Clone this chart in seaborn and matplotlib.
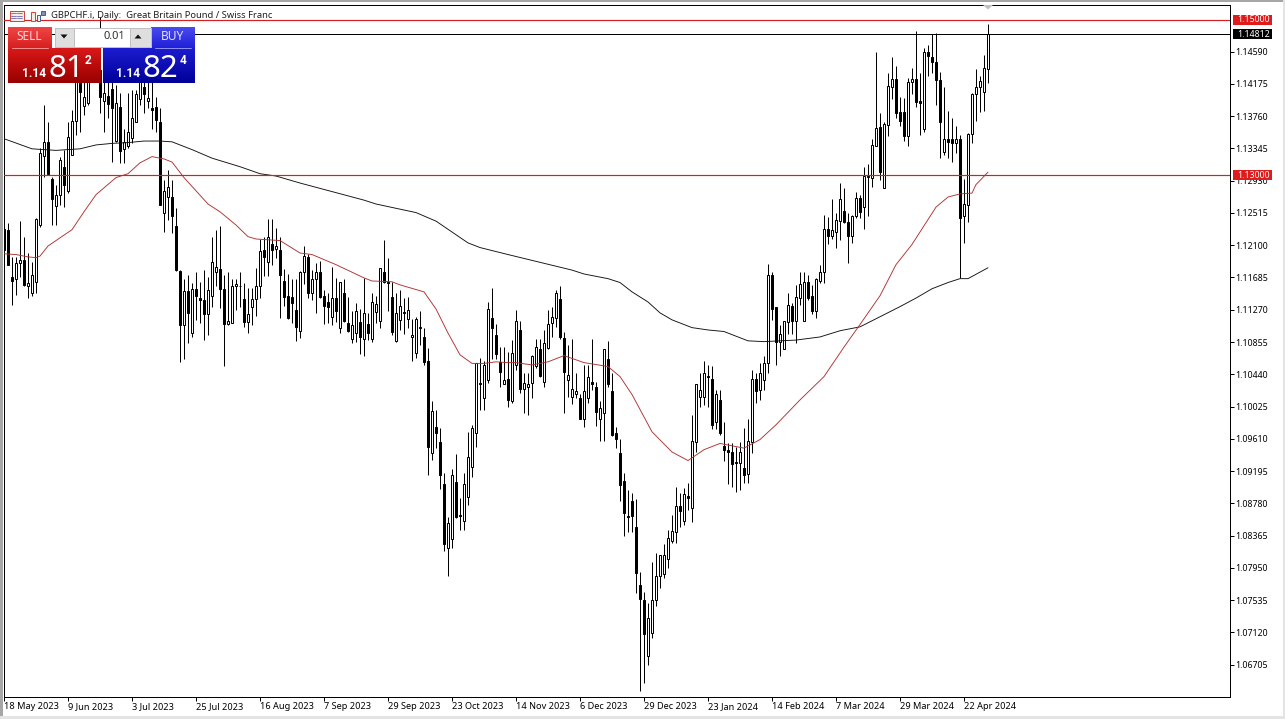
import numpy as np
import pandas as pd
import matplotlib
matplotlib.use("Agg")
import matplotlib.pyplot as plt
from matplotlib.patches import Polygon, Rectangle
import seaborn as sns

FONT = "Noto Sans"

highs = [
    1.1239, 1.1239, 1.1195, 1.1195, 1.1241, 1.1221, 1.1200, 1.1189, 1.1245, 1.1335,
    1.1391, 1.1369, 1.1298, 1.1288, 1.1324, 1.1333, 1.1369, 1.1384, 1.1449, 1.1442,
    1.1436, 1.1449, 1.1455, 1.1461, 1.1504, 1.1449, 1.1449, 1.1436, 1.1416, 1.1406,
    1.1359, 1.1406, 1.1410, 1.1410, 1.1449, 1.1442, 1.1423, 1.1429, 1.1401, 1.1386,
    1.1294, 1.1307, 1.1294, 1.1258, 1.1178, 1.1166, 1.1172, 1.1162, 1.1175, 1.1163,
    1.1178, 1.1169, 1.1220, 1.1230, 1.1235, 1.1172, 1.1176, 1.1166, 1.1167, 1.1176,
    1.1162, 1.1155, 1.1155, 1.1181, 1.1218, 1.1221, 1.1244, 1.1244, 1.1232, 1.1221,
    1.1180, 1.1173, 1.1166, 1.1167, 1.1177, 1.1209, 1.1199, 1.1178, 1.1187, 1.1190,
    1.1153, 1.1149, 1.1182, 1.1168, 1.1163, 1.1166, 1.1144, 1.1126, 1.1136, 1.1128,
    1.1168, 1.1123, 1.1148, 1.1145, 1.1181, 1.1217, 1.1193, 1.1163, 1.1149, 1.1153,
    1.1142, 1.1144, 1.1115, 1.1118, 1.1126, 1.1104, 1.1078, 1.1009, 1.0998, 1.0975,
    1.0917, 1.0861, 1.0922, 1.0942, 1.0885, 1.0917, 1.0970, 1.0979, 1.1059, 1.1065,
    1.1061, 1.1137, 1.1155, 1.1109, 1.1079, 1.1079, 1.1073, 1.1088, 1.1127, 1.1113,
    1.1045, 1.1045, 1.1069, 1.1090, 1.1090, 1.1101, 1.1127, 1.1131, 1.1153, 1.1157,
    1.1099, 1.1082, 1.1090, 1.1046, 1.1018, 1.1056, 1.1056, 1.1090, 1.1034, 1.1009,
    1.1077, 1.1087, 1.1045, 1.0976, 1.0961, 1.0917, 1.0895, 1.0891, 1.0884, 1.0790,
    1.0764, 1.0750, 1.0802, 1.0814, 1.0812, 1.0826, 1.0844, 1.0863, 1.0899, 1.0891,
    1.0898, 1.0904, 1.0991, 1.1031, 1.1046, 1.1061, 1.1056, 1.1054, 1.1024, 1.1024,
    1.0983, 1.0956, 1.0956, 1.0951, 1.0957, 1.0975, 1.0986, 1.1050, 1.1045, 1.1059,
    1.1068, 1.1186, 1.1175, 1.1131, 1.1108, 1.1113, 1.1149, 1.1136, 1.1159, 1.1176,
    1.1175, 1.1172, 1.1159, 1.1168, 1.1185, 1.1249, 1.1246, 1.1269, 1.1252, 1.1290,
    1.1284, 1.1252, 1.1249, 1.1279, 1.1275, 1.1311, 1.1314, 1.1347, 1.1459, 1.1380,
    1.1368, 1.1432, 1.1452, 1.1440, 1.1401, 1.1400, 1.1425, 1.1438, 1.1485, 1.1431,
    1.1464, 1.1468, 1.1482, 1.1483, 1.1433, 1.1414, 1.1383, 1.1374, 1.1364, 1.1352,
    1.1295, 1.1354, 1.1406, 1.1437, 1.1428, 1.1455, 1.1494,
]
body_tops = [
    1.1231, 1.1230, 1.1169, 1.1187, 1.1191, 1.1191, 1.1162, 1.1172, 1.1244, 1.1329,
    1.1343, 1.1343, 1.1295, 1.1275, 1.1320, 1.1310, 1.1349, 1.1370, 1.1429, 1.1429,
    1.1401, 1.1429, 1.1442, 1.1449, 1.1436, 1.1406, 1.1402, 1.1411, 1.1393, 1.1388,
    1.1343, 1.1356, 1.1374, 1.1404, 1.1433, 1.1414, 1.1400, 1.1387, 1.1388, 1.1369,
    1.1280, 1.1285, 1.1272, 1.1235, 1.1177, 1.1151, 1.1151, 1.1154, 1.1154, 1.1142,
    1.1139, 1.1153, 1.1189, 1.1182, 1.1180, 1.1154, 1.1113, 1.1157, 1.1160, 1.1158,
    1.1141, 1.1121, 1.1141, 1.1158, 1.1203, 1.1204, 1.1221, 1.1212, 1.1209, 1.1204,
    1.1164, 1.1145, 1.1144, 1.1127, 1.1176, 1.1196, 1.1195, 1.1167, 1.1176, 1.1176,
    1.1145, 1.1137, 1.1142, 1.1142, 1.1163, 1.1149, 1.1110, 1.1108, 1.1126, 1.1111,
    1.1123, 1.1109, 1.1137, 1.1135, 1.1181, 1.1175, 1.1163, 1.1144, 1.1123, 1.1132,
    1.1124, 1.1127, 1.1095, 1.1115, 1.1105, 1.1092, 1.1061, 1.0997, 1.0976, 1.0957,
    1.0903, 1.0853, 1.0915, 1.0906, 1.0863, 1.0903, 1.0937, 1.0975, 1.1059, 1.1033,
    1.1056, 1.1128, 1.1117, 1.1094, 1.1060, 1.1037, 1.1038, 1.1072, 1.1113, 1.1101,
    1.1033, 1.1031, 1.1068, 1.1079, 1.1076, 1.1084, 1.1109, 1.1118, 1.1149, 1.1141,
    1.1091, 1.1043, 1.1025, 1.1022, 1.1014, 1.1023, 1.1041, 1.1034, 1.1027, 1.1000,
    1.1076, 1.1063, 1.1023, 1.0969, 1.0943, 1.0907, 1.0862, 1.0881, 1.0847, 1.0773,
    1.0753, 1.0731, 1.0753, 1.0785, 1.0812, 1.0812, 1.0834, 1.0843, 1.0874, 1.0874,
    1.0890, 1.0888, 1.0958, 1.1031, 1.1024, 1.1046, 1.1042, 1.1038, 1.1019, 1.1011,
    1.0952, 1.0947, 1.0944, 1.0931, 1.0944, 1.0924, 1.0958, 1.1038, 1.1038, 1.1045,
    1.1059, 1.1172, 1.1172, 1.1130, 1.1096, 1.1113, 1.1133, 1.1132, 1.1144, 1.1160,
    1.1163, 1.1163, 1.1145, 1.1166, 1.1176, 1.1231, 1.1231, 1.1230, 1.1243, 1.1270,
    1.1254, 1.1240, 1.1247, 1.1271, 1.1271, 1.1299, 1.1299, 1.1339, 1.1361, 1.1362,
    1.1366, 1.1415, 1.1424, 1.1424, 1.1382, 1.1382, 1.1420, 1.1424, 1.1424, 1.1396,
    1.1458, 1.1458, 1.1452, 1.1446, 1.1423, 1.1347, 1.1346, 1.1346, 1.1347, 1.1347,
    1.1263, 1.1353, 1.1405, 1.1414, 1.1421, 1.1438, 1.1482,
]
body_bottoms = [
    1.1204, 1.1184, 1.1164, 1.1167, 1.1187, 1.1159, 1.1158, 1.1149, 1.1163, 1.1236,
    1.1325, 1.1302, 1.1269, 1.1261, 1.1275, 1.1288, 1.1280, 1.1326, 1.1370, 1.1407,
    1.1389, 1.1393, 1.1425, 1.1429, 1.1401, 1.1396, 1.1392, 1.1386, 1.1344, 1.1331,
    1.1334, 1.1337, 1.1348, 1.1369, 1.1398, 1.1404, 1.1396, 1.1384, 1.1371, 1.1262,
    1.1252, 1.1272, 1.1248, 1.1178, 1.1108, 1.1108, 1.1123, 1.1097, 1.1145, 1.1139,
    1.1122, 1.1122, 1.1145, 1.1175, 1.1154, 1.1109, 1.1109, 1.1110, 1.1157, 1.1157,
    1.1111, 1.1111, 1.1131, 1.1141, 1.1158, 1.1195, 1.1189, 1.1204, 1.1205, 1.1172,
    1.1144, 1.1117, 1.1136, 1.1105, 1.1100, 1.1175, 1.1148, 1.1148, 1.1167, 1.1144,
    1.1132, 1.1130, 1.1118, 1.1126, 1.1103, 1.1113, 1.1100, 1.1090, 1.1097, 1.1092,
    1.1090, 1.1097, 1.1090, 1.1124, 1.1113, 1.1163, 1.1162, 1.1099, 1.1087, 1.1114,
    1.1123, 1.1115, 1.1092, 1.1072, 1.1103, 1.1060, 1.0951, 1.0943, 1.0969, 1.0915,
    1.0826, 1.0820, 1.0832, 1.0861, 1.0862, 1.0855, 1.0886, 1.0925, 1.0969, 1.1031,
    1.1014, 1.1037, 1.1103, 1.1070, 1.1047, 1.1032, 1.1011, 1.1010, 1.1056, 1.1025,
    1.1025, 1.1028, 1.1033, 1.1055, 1.1042, 1.1034, 1.1078, 1.1110, 1.1117, 1.1092,
    1.1047, 1.1036, 1.1015, 1.1018, 1.0987, 1.0987, 1.1014, 1.1031, 1.0996, 1.0987,
    1.0994, 1.1032, 1.0966, 1.0961, 1.0902, 1.0866, 1.0861, 1.0862, 1.0788, 1.0755,
    1.0710, 1.0682, 1.0711, 1.0753, 1.0784, 1.0787, 1.0807, 1.0830, 1.0841, 1.0868,
    1.0855, 1.0885, 1.0872, 1.0957, 1.1015, 1.1015, 1.1041, 1.0979, 1.0982, 1.0969,
    1.0946, 1.0944, 1.0929, 1.0930, 1.0930, 1.0914, 1.0916, 1.0957, 1.1023, 1.1024,
    1.1036, 1.1058, 1.1128, 1.1086, 1.1086, 1.1077, 1.1111, 1.1113, 1.1113, 1.1142,
    1.1113, 1.1142, 1.1126, 1.1126, 1.1164, 1.1175, 1.1222, 1.1222, 1.1227, 1.1241,
    1.1240, 1.1222, 1.1222, 1.1247, 1.1253, 1.1259, 1.1298, 1.1297, 1.1338, 1.1304,
    1.1284, 1.1365, 1.1414, 1.1380, 1.1370, 1.1350, 1.1350, 1.1420, 1.1394, 1.1393,
    1.1360, 1.1454, 1.1446, 1.1422, 1.1369, 1.1330, 1.1343, 1.1342, 1.1341, 1.1245,
    1.1247, 1.1262, 1.1353, 1.1405, 1.1414, 1.1407, 1.1437,
]
lows = [
    1.1182, 1.1184, 1.1133, 1.1146, 1.1169, 1.1158, 1.1142, 1.1145, 1.1149, 1.1234,
    1.1298, 1.1302, 1.1236, 1.1236, 1.1262, 1.1259, 1.1277, 1.1326, 1.1352, 1.1356,
    1.1378, 1.1391, 1.1420, 1.1420, 1.1380, 1.1356, 1.1374, 1.1317, 1.1343, 1.1316,
    1.1316, 1.1335, 1.1342, 1.1368, 1.1391, 1.1380, 1.1387, 1.1360, 1.1355, 1.1262,
    1.1227, 1.1243, 1.1226, 1.1177, 1.1060, 1.1063, 1.1084, 1.1092, 1.1114, 1.1110,
    1.1088, 1.1095, 1.1131, 1.1157, 1.1129, 1.1054, 1.1108, 1.1110, 1.1127, 1.1131,
    1.1105, 1.1097, 1.1108, 1.1119, 1.1142, 1.1171, 1.1171, 1.1184, 1.1194, 1.1117,
    1.1132, 1.1115, 1.1110, 1.1087, 1.1091, 1.1160, 1.1142, 1.1139, 1.1123, 1.1142,
    1.1109, 1.1110, 1.1108, 1.1111, 1.1097, 1.1111, 1.1099, 1.1084, 1.1086, 1.1070,
    1.1068, 1.1088, 1.1086, 1.1110, 1.1104, 1.1162, 1.1126, 1.1094, 1.1086, 1.1101,
    1.1096, 1.1103, 1.1061, 1.1065, 1.1082, 1.1056, 1.0915, 1.0934, 1.0949, 1.0897,
    1.0817, 1.0784, 1.0821, 1.0859, 1.0844, 1.0844, 1.0876, 1.0912, 1.0951, 1.0998,
    1.0998, 1.1033, 1.1063, 1.1063, 1.1027, 1.1032, 1.1002, 1.1007, 1.1050, 1.1020,
    1.0994, 1.0991, 1.1014, 1.1052, 1.1041, 1.1028, 1.1076, 1.1092, 1.1105, 1.1090,
    1.0994, 1.1015, 1.1006, 1.1014, 1.0986, 1.0976, 1.1007, 1.1024, 1.0978, 1.0958,
    1.0958, 1.1027, 1.0964, 1.0949, 1.0881, 1.0836, 1.0841, 1.0841, 1.0763, 1.0637,
    1.0647, 1.0670, 1.0705, 1.0746, 1.0769, 1.0782, 1.0795, 1.0827, 1.0827, 1.0847,
    1.0850, 1.0870, 1.0854, 1.0944, 1.1002, 1.1005, 1.1002, 1.0973, 1.0973, 1.0966,
    1.0933, 1.0903, 1.0899, 1.0893, 1.0895, 1.0904, 1.0904, 1.0943, 1.1007, 1.1011,
    1.1024, 1.1046, 1.1114, 1.1056, 1.1067, 1.1076, 1.1096, 1.1096, 1.1084, 1.1133,
    1.1113, 1.1140, 1.1121, 1.1117, 1.1162, 1.1162, 1.1212, 1.1218, 1.1207, 1.1217,
    1.1239, 1.1187, 1.1213, 1.1245, 1.1245, 1.1231, 1.1248, 1.1285, 1.1338, 1.1294,
    1.1284, 1.1350, 1.1398, 1.1374, 1.1364, 1.1344, 1.1338, 1.1404, 1.1388, 1.1352,
    1.1356, 1.1428, 1.1431, 1.1391, 1.1322, 1.1326, 1.1322, 1.1317, 1.1329, 1.1168,
    1.1213, 1.1240, 1.1342, 1.1370, 1.1382, 1.1383, 1.1419,
]
# 1 = white (up) candle, 0 = black (down) candle
candle_up = (
    "0001101111" "1001101110" "1110010010" "1111101000" "1100010100"
    "0111001110" "0111101010" "0000110110" "0010100110" "1011100011"
    "0111100100" "0110011110" "1100010110" "1111011110" "0111011001"
    "1000000000" "0111111110" "1011110010" "0000101101" "1100111011"
    "1001110111" "0011010110" "1110001100" "1000010010" "1111111"
)

ma_red_bars = [1, 4, 7, 9, 10, 12, 14, 18, 21, 24, 29, 32, 35, 38, 41, 43, 46, 52, 55, 59,
               62, 64, 70, 75, 78, 84, 91, 93, 98, 100, 106, 109, 112, 115, 118, 121, 124,
               127, 129, 133, 137, 141, 146, 152, 155, 158, 163, 168, 172, 176, 180, 186,
               190, 194, 200, 206, 211, 215, 220, 221, 224, 228, 230, 234, 237, 240, 243,
               244, 247]
ma_red = [1.1199, 1.1198, 1.1195, 1.1194, 1.1196, 1.1209, 1.1216, 1.1230, 1.1253, 1.1275,
          1.1297, 1.1302, 1.1316, 1.1324, 1.1321, 1.1317, 1.1297, 1.1263, 1.1253, 1.1236,
          1.1221, 1.1218, 1.1216, 1.1200, 1.1198, 1.1185, 1.1168, 1.1164, 1.1163, 1.1159,
          1.1150, 1.1128, 1.1097, 1.1069, 1.1058, 1.1058, 1.1060, 1.1059, 1.1059, 1.1056,
          1.1060, 1.1068, 1.1059, 1.1054, 1.1041, 1.1018, 1.0970, 1.0944, 1.0933, 1.0947,
          1.0955, 1.0949, 1.0960, 1.0979, 1.1011, 1.1041, 1.1079, 1.1108, 1.1145, 1.1155,
          1.1185, 1.1211, 1.1227, 1.1259, 1.1272, 1.1276, 1.1277, 1.1288, 1.1304]
ma_black_bars = [1, 8, 14, 20, 24, 28, 32, 36, 40, 43, 48, 53, 60, 65, 69, 75, 83, 91, 94,
                 104, 109, 113, 117, 120, 127, 143, 146, 152, 155, 158, 162, 165, 168, 173,
                 177, 181, 187, 191, 199, 205, 210, 215, 220, 225, 229, 233, 237, 240, 242,
                 247]
ma_black = [1.1347, 1.1334, 1.1332, 1.1334, 1.1339, 1.1341, 1.1342, 1.1344, 1.1344, 1.1343,
            1.1333, 1.1322, 1.1311, 1.1302, 1.1299, 1.1290, 1.1279, 1.1268, 1.1263, 1.1252,
            1.1241, 1.1227, 1.1213, 1.1207, 1.1198, 1.1178, 1.1173, 1.1167, 1.1162, 1.1150,
            1.1137, 1.1123, 1.1114, 1.1104, 1.1101, 1.1099, 1.1087, 1.1086, 1.1088, 1.1092,
            1.1100, 1.1105, 1.1118, 1.1131, 1.1142, 1.1154, 1.1162, 1.1167, 1.1167, 1.1181]

price_ticks = [1.14590, 1.14175, 1.13760, 1.13345, 1.12930, 1.12515, 1.12100, 1.11685,
               1.11270, 1.10855, 1.10440, 1.10025, 1.09610, 1.09195, 1.08780, 1.08365,
               1.07950, 1.07535, 1.07120, 1.06705]
date_labels = ["18 May 2023", "9 Jun 2023", "3 Jul 2023", "25 Jul 2023", "16 Aug 2023",
               "7 Sep 2023", "29 Sep 2023", "23 Oct 2023", "14 Nov 2023", "6 Dec 2023",
               "29 Dec 2023", "23 Jan 2024", "14 Feb 2024", "7 Mar 2024", "29 Mar 2024",
               "22 Apr 2024"]
date_bars = [1, 17, 33, 49, 65, 81, 97, 113, 129, 145, 161, 177, 193, 209, 225, 241]
level_lines = [1.15000, 1.13000]
last_price = 1.14812

W, H = 1285, 719
PX = 0.72
PRICE_PER_PX = 1 / 7774

sns.set_theme(style="white", rc={"axes.edgecolor": "black", "axes.linewidth": PX})
plt.rcParams["font.family"] = [FONT, "DejaVu Sans"]

candles = pd.DataFrame({"high": highs, "top": body_tops, "bottom": body_bottoms, "low": lows,
                        "up": [c == "1" for c in candle_up]})
candles["bar"] = np.arange(1, len(candles) + 1)

fig = plt.figure(figsize=(W / 100, H / 100), dpi=100, facecolor="white")
ax = fig.add_axes([4.0 / W, 1 - 696.5 / H, 1226 / W, 692 / H])

ax.vlines(candles["bar"], candles["low"], candles["high"], color="black", lw=PX, zorder=2)
ax.bar(candles["bar"], candles["top"] - candles["bottom"], bottom=candles["bottom"], width=0.5,
       color=["white" if u else "black" for u in candles["up"]],
       edgecolor="black", linewidth=PX, zorder=3)

sns.lineplot(x=ma_black_bars, y=ma_black, color="#101010", lw=0.65, ax=ax, zorder=4)
sns.lineplot(x=ma_red_bars, y=ma_red, color="#ae3030", lw=0.65, ax=ax, zorder=4)

for level in level_lines:
    ax.axhline(level, color="#d42020", lw=0.85, zorder=6)
ax.axhline(last_price, color="black", lw=PX, zorder=5)

ax.set_xlim(1.0, 307.5)
ax.set_ylim(1.06295, 1.151965)
ax.set_xlabel("")
ax.set_ylabel("")
ax.set_xticks(date_bars, date_labels, ha="left")
ax.yaxis.tick_right()
ax.set_yticks(price_ticks, [f"{t:.5f}" for t in price_ticks])
ax.tick_params(axis="both", length=3, width=PX, color="black", labelsize=6.3,
               bottom=True, right=True, labelcolor="black", pad=1)
ax.tick_params(axis="x", labelsize=6.6, pad=1)

# price tags on the right scale
for price, colour in [(1.15000, "#e01b1b"), (1.13000, "#e01b1b"), (last_price, "black")]:
    ax.add_patch(Rectangle((1.0024, price - 5 * PRICE_PER_PX), 39 / 1226, 10 * PRICE_PER_PX,
                           transform=ax.get_yaxis_transform(), facecolor=colour,
                           edgecolor="none", clip_on=False, zorder=9))
    ax.text(1.0055, price, f"{price:.5f}", transform=ax.get_yaxis_transform(), color="white",
            fontsize=6.3, va="center", ha="left", zorder=10, clip_on=False)

# overlay in pixels: window edge, title and the trade panel
ov = fig.add_axes([0, 0, 1, 1], zorder=20)
ov.patch.set_alpha(0)
ov.axis("off")


def box(x0, y0, x1, y1, face, edge="none", lw=PX):
    ov.add_patch(Rectangle((x0, y0), x1 - x0, y1 - y0, facecolor=face, edgecolor=edge, lw=lw))


def gradient(x0, y0, x1, y1, top, bottom):
    c0, c1 = np.array(matplotlib.colors.to_rgb(top)), np.array(matplotlib.colors.to_rgb(bottom))
    t = np.linspace(0, 1, 32)[:, None, None]
    ov.imshow(c0 * (1 - t) + c1 * t, extent=(x0, x1, y1, y0), aspect="auto", zorder=1,
              interpolation="bilinear")


box(0, 0, 2.5, H, "#a6a6a6")
box(0, 0, W, 2, "#a6a6a6")
box(0, H - 3, W, H, "#e4e4e4")
box(W - 2, 0, W, H, "#e4e4e4")
ov.add_patch(Polygon([(983, 5), (993, 5), (988, 9.5)], facecolor="#c0c0c0", edgecolor="none"))

ov.text(51, 15, "GBPCHF.i, Daily:  Great Britain Pound / Swiss Franc", fontsize=6.75,
        va="center", ha="left", color="#202020")

# chart icons
box(9.5, 10.5, 23.5, 20.5, "#f8ebe4", "#d04838")
for y in (13, 15.5, 18):
    ov.plot([11, 15.5], [y, y], color="#6a6ab0", lw=0.6)
    ov.plot([17, 22], [y, y], color="#6a6ab0", lw=0.6)
box(30.5, 11.5, 35, 20.5, "#f8ebe4", "#d04838")
box(36.5, 14.5, 40, 20.5, "#f8ebe4", "#4060a8")
box(40.5, 10.5, 44.5, 15, "#8090b8", "#4060a8")

gradient(8, 27, 52, 48, "#f04545", "#d82020")
gradient(8, 48, 101, 83, "#d81818", "#9a0000")
gradient(151, 27, 195, 48, "#4a4af0", "#2020d8")
gradient(103, 48, 195, 83, "#1c1cd0", "#00009a")
ov.plot([12, 48], [47.5, 47.5], color="#f09090", lw=0.7, zorder=2)
ov.plot([155, 191], [47.5, 47.5], color="#9090f0", lw=0.7, zorder=2)
box(54.5, 27.5, 150.5, 46.5, "#ffffff", "#c0c0c0")
box(54.5, 27.5, 73.5, 46.5, "#dedede", "#c0c0c0")
box(129.5, 27.5, 150.5, 46.5, "#dedede", "#c0c0c0")
ov.add_patch(Polygon([(60.5, 34.5), (67.5, 34.5), (64, 38.5)], facecolor="#101010", edgecolor="none"))
ov.add_patch(Polygon([(134.5, 38.5), (141.5, 38.5), (138, 34.5)], facecolor="#101010", edgecolor="none"))
ov.text(125, 36.5, "0.01", fontsize=8, va="center", ha="right", color="#303030")
ov.text(29.5, 36.5, "SELL", fontsize=8.6, va="center", ha="center", color="#f8d8d8")
ov.text(172, 36.5, "BUY", fontsize=8.6, va="center", ha="center", color="#e0e0ff")

for x_big, x_small, x_sup, digits, sup in [(49, 22, 85, "81", "2"), (143, 116, 180, "82", "4")]:
    ov.text(x_small, 73.5, "1.14", fontsize=8.6, family="Roboto", fontweight="bold",
            va="center", ha="left", color="white")
    ov.text(x_big, 69, digits, fontsize=22.5, va="center", ha="left", color="white")
    ov.text(x_sup, 61, sup, fontsize=8.6, family="Roboto", fontweight="bold",
            va="center", ha="left", color="white")

ov.set_xlim(0, W)
ov.set_ylim(H, 0)

fig.savefig("out.png", dpi=100)
plt.close(fig)
